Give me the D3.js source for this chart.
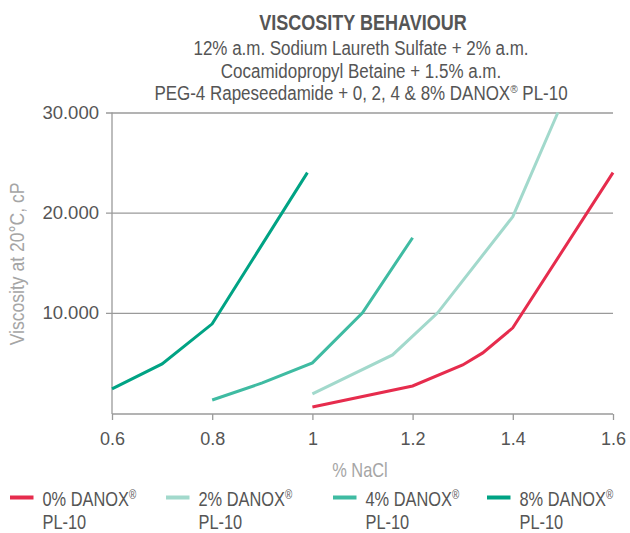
<!DOCTYPE html>
<html>
<head>
<meta charset="utf-8">
<script src="https://cdn.jsdelivr.net/npm/d3@7"></script>
<style>
  body { margin: 0; background: #fff; }
</style>
</head>
<body>
<div id="chart"></div>
<script>
// data
const seriesNames = ["0% DANOX®", "2% DANOX®", "4% DANOX®", "8% DANOX®"];
const nacl0 = [1.0, 1.2, 1.3, 1.34, 1.4, 1.6];
const visc0 = [600, 2700, 4800, 6000, 8500, 24000];
const nacl2 = [1.0, 1.16, 1.25, 1.4, 1.49];
const visc2 = [1900, 5800, 10000, 19600, 30000];
const nacl4 = [0.8, 0.9, 1.0, 1.1, 1.2];
const visc4 = [1300, 3000, 5000, 10000, 17500];
const nacl8 = [0.6, 0.7, 0.8, 0.99];
const visc8 = [2400, 4900, 8900, 24000];
const xTicks = [0.6, 0.8, 1, 1.2, 1.4, 1.6];
const yTicks = [10000, 20000, 30000];
const subtitleLines = [
  "12% a.m. Sodium Laureth Sulfate + 2% a.m.",
  "Cocamidopropyl Betaine + 1.5% a.m.",
  "PEG-4 Rapeseedamide + 0, 2, 4 & 8% DANOX® PL-10"
];

const colors = ["#e62c4d", "#a2d9cc", "#3fbba2", "#00a384"];
const series = [
  {x: nacl0, y: visc0}, {x: nacl2, y: visc2},
  {x: nacl4, y: visc4}, {x: nacl8, y: visc8}
];

const W = 630, H = 533;
const FONT = "'Liberation Sans', Arial, sans-serif";
const SX = 0.82; // fake a condensed face
const textDark = "#555", textLight = "#a5a5a5", gridCol = "#9a9a9a";

const svg = d3.select("#chart").append("svg")
    .attr("width", W).attr("height", H)
    .style("font-family", FONT);

const x = d3.scaleLinear().domain([0.6, 1.6]).range([112, 613]);
const y = d3.scaleLinear().domain([0, 30000]).range([413, 112.5]);

// text with ® split into a raised tspan
function fillReg(t, str) {
    const parts = str.split("®");
    t.append("tspan").text(parts[0]);
    if (parts.length > 1) {
        t.append("tspan").attr("font-size", "0.6em").attr("dy", -7).text("®");
        if (parts[1]) t.append("tspan").attr("dy", 7).text(parts[1]);
    }
}

function narrowText(parent, tx, ty, extra, sx) {
    return parent.append("g")
        .attr("transform", `translate(${tx},${ty}) ${extra || ""} scale(${sx || SX},1)`)
        .append("text");
}

// title block
narrowText(svg, 363, 30)
    .attr("text-anchor", "middle")
    .attr("font-size", 22).attr("font-weight", "bold")
    .attr("fill", textDark)
    .text("VISCOSITY BEHAVIOUR");

subtitleLines.forEach((s, i) => {
    const t = narrowText(svg, 361, 55 + i * 22.5, "", 0.87)
        .attr("text-anchor", "middle")
        .attr("font-size", 19.5)
        .attr("fill", textDark);
    fillReg(t, s);
});

// gridlines + y axis
const yAxis = d3.axisLeft(y).tickValues(yTicks)
    .tickFormat(d => d3.format(",")(d).replace(",", "."))
    .tickSize(-(613 - 106)).tickPadding(7);
const gy = svg.append("g").attr("transform", "translate(106,0)").call(yAxis);
gy.select(".domain").remove();
gy.selectAll(".tick line").attr("stroke", gridCol).attr("stroke-width", 1.3);
gy.selectAll(".tick text")
    .style("font-family", FONT)
    .attr("font-size", 18.5).attr("fill", textDark);

// left axis line
svg.append("line")
    .attr("x1", x(0.6)).attr("x2", x(0.6))
    .attr("y1", y(30000)).attr("y2", y(0) + 1)
    .attr("stroke", gridCol).attr("stroke-width", 1.3);

// x axis
const xAxis = d3.axisBottom(x).tickValues(xTicks).tickFormat(d3.format("")).tickSize(6).tickPadding(12);
const gx = svg.append("g").attr("transform", `translate(0,${y(0) + 1})`).call(xAxis);
gx.select(".domain").attr("stroke", gridCol).attr("stroke-width", 1.3).attr("d", `M${x(0.6)},0H${x(1.6)}`);
gx.selectAll(".tick line").attr("stroke", gridCol).attr("stroke-width", 1.3);
gx.selectAll(".tick text")
    .style("font-family", FONT)
    .attr("font-size", 18).attr("fill", textDark);

// axis titles
narrowText(svg, 24, 264, "rotate(-90)", 0.9)
    .attr("text-anchor", "middle")
    .attr("font-size", 19.5).attr("fill", textLight)
    .text("Viscosity at 20°C, cP");

narrowText(svg, 360, 476.5)
    .attr("text-anchor", "middle")
    .attr("font-size", 20).attr("fill", textLight)
    .text("% NaCl");

// lines
const line = d3.line().x(d => x(d[0])).y(d => y(d[1]));
svg.selectAll(".series").data(series).enter().append("path")
    .attr("class", "series")
    .attr("d", s => line(d3.zip(s.x, s.y)))
    .attr("fill", "none")
    .attr("stroke", (s, i) => colors[i])
    .attr("stroke-width", 3);

// legend
const legX = [10, 166, 333, 487];
seriesNames.forEach((name, i) => {
    const g = svg.append("g").attr("transform", `translate(${legX[i]},0)`);
    g.append("rect")
        .attr("x", 0).attr("y", 495.5).attr("width", 23.5).attr("height", 4)
        .attr("fill", colors[i]);
    const t = narrowText(g, 32.5, 506)
        .attr("font-size", 20).attr("fill", textDark);
    fillReg(t, name);
    t.append("tspan").attr("x", 0).attr("dy", 23.5 + 7).text("PL-10");
});
</script>
</body>
</html>
